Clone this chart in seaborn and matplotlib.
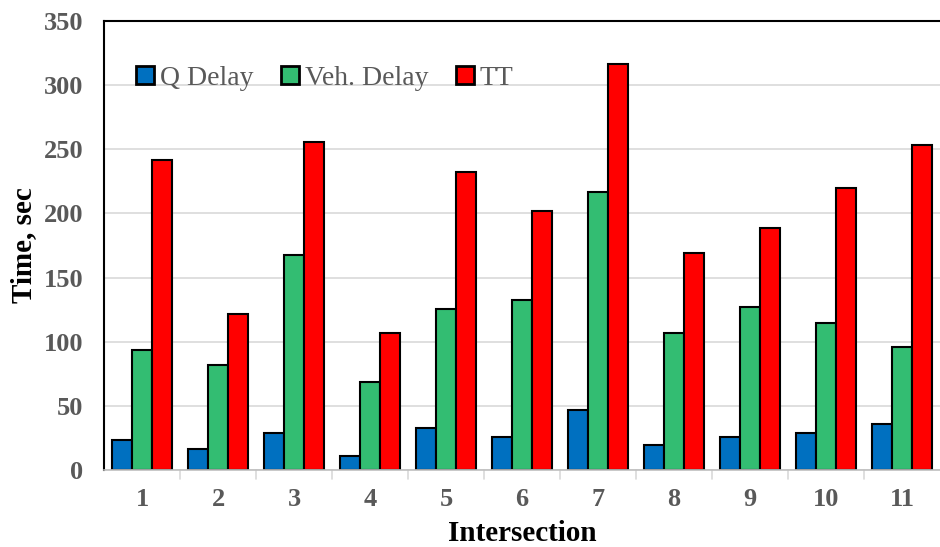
import pandas as pd
import matplotlib
matplotlib.use("Agg")
import matplotlib.pyplot as plt
import seaborn as sns

intersections = [str(i) for i in range(1, 12)]
q_delay   = [24, 17, 29, 11, 33, 26, 47, 20, 26, 29, 36]
veh_delay = [94, 82, 168, 69, 126, 133, 217, 107, 127, 115, 96]
tt        = [242, 122, 256, 107, 232, 202, 316, 169, 189, 220, 253]
series    = ["Q Delay", "Veh. Delay", "TT"]
colors    = ["#0070C0", "#33BD72", "#FF0000"]

df = pd.DataFrame({"Intersection": intersections,
                   "Q Delay": q_delay, "Veh. Delay": veh_delay, "TT": tt})
long = df.melt(id_vars="Intersection", var_name="series", value_name="time")

sns.set_style("white")
plt.rcParams["font.family"] = ["Liberation Serif", "DejaVu Serif"]

fig = plt.figure(figsize=(9.4, 5.47), dpi=100)
ax = fig.add_axes([0.111, 0.14, 0.889, 0.822])

sns.barplot(data=long, x="Intersection", y="time", hue="series",
            hue_order=series, palette=colors, width=0.79,
            edgecolor="black", linewidth=1.5, saturation=1, ax=ax)

ax.set_xlim(-0.5, len(intersections) - 0.5)
ax.set_ylim(0, 350)
ax.set_yticks(range(0, 351, 50))
ax.yaxis.grid(True, color="#d9d9d9", linewidth=1.2)
ax.set_axisbelow(True)

for lab in ax.get_xticklabels() + ax.get_yticklabels():
    lab.set_fontweight("bold")
    lab.set_color("#595959")
    lab.set_fontsize(19)
ax.tick_params(axis="x", length=0, pad=13)
ax.tick_params(axis="y", length=0, pad=15)

# light tick marks between categories
for x in [i + 0.5 for i in range(len(intersections) - 1)]:
    ax.plot([x, x], [0, -0.018], transform=ax.get_xaxis_transform(),
            color="#d9d9d9", lw=1.2, clip_on=False)

ax.set_xlabel("Intersection", fontsize=21, fontweight="bold", color="black", labelpad=6)
ax.set_ylabel("Time, sec", fontsize=21, fontweight="bold", color="black")
ax.yaxis.set_label_coords(-0.08, 0.5)

ax.spines["left"].set_color("black")
ax.spines["left"].set_linewidth(1.5)
ax.spines["top"].set_color("black")
ax.spines["top"].set_linewidth(1.5)
ax.spines["right"].set_visible(False)
ax.spines["bottom"].set_color("#bfbfbf")
ax.spines["bottom"].set_linewidth(1.2)

leg = ax.legend(loc="upper left", bbox_to_anchor=(0.025, 0.925), ncol=3, frameon=False,
                fontsize=20, handlelength=0.65, handleheight=0.65, handletextpad=0.2,
                columnspacing=1.0, borderaxespad=0)
for t in leg.get_texts():
    t.set_color("#595959")
for h in leg.legend_handles:
    h.set_linewidth(2)

fig.savefig("out.png", dpi=100)
